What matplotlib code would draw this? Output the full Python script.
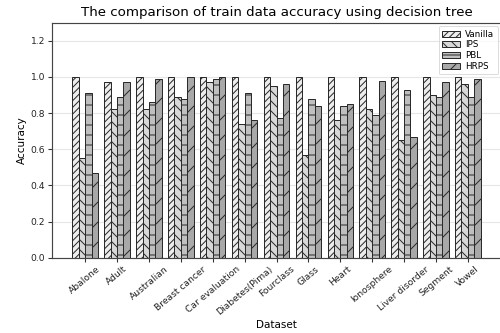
import matplotlib
matplotlib.use("Agg")
import matplotlib.pyplot as plt
import numpy as np

datasets = ["Abalone", "Adult", "Australian", "Breast cancer", "Car evaluation",
            "Diabetes(Pima)", "Fourclass", "Glass", "Heart", "Ionosphere",
            "Liver disorder", "Segment", "Vowel"]
vanilla = [1.0, 0.97, 1.0, 1.0, 1.0, 1.0, 1.0, 1.0, 1.0, 1.0, 1.0, 1.0, 1.0]
ips = [0.55, 0.82, 0.82, 0.89, 0.97, 0.74, 0.95, 0.57, 0.76, 0.82, 0.65, 0.90, 0.96]
pbl = [0.91, 0.89, 0.86, 0.88, 0.99, 0.91, 0.77, 0.88, 0.84, 0.79, 0.93, 0.89, 0.89]
hrps = [0.47, 0.97, 0.99, 1.0, 1.0, 0.76, 0.96, 0.84, 0.85, 0.98, 0.67, 0.97, 0.99]

series = [
    ("Vanilla", vanilla, "#ededed", "///"),
    ("IPS", ips, "#d8d8d8", "\\\\"),
    ("PBL", pbl, "#bfbfbf", "-"),
    ("HRPS", hrps, "#a8a8a8", "/"),
]

# rendered at a low dpi so the hatch spacing matches the reference
DPI = 60
plt.rcParams["hatch.linewidth"] = 1.2
plt.rcParams["hatch.color"] = "#2a2a2a"

fig = plt.figure(figsize=(500 / DPI, 333 / DPI), dpi=DPI)
ax = fig.add_axes([0.104, 0.226, 0.898, 0.706])

x = np.arange(len(datasets))
width = 0.2
for i, (name, vals, color, hatch) in enumerate(series):
    ax.bar(x + (i - 1.5) * width, vals, width, label=name, color=color,
           edgecolor="#2a2a2a", linewidth=1.2, hatch=hatch)

ax.set_ylim(0, 1.3)
ax.set_yticks([0.0, 0.2, 0.4, 0.6, 0.8, 1.0, 1.2])
ax.set_xticks(x)
ax.set_xticklabels(datasets, rotation=40, fontsize=11)
ax.tick_params(axis="y", labelsize=11)
ax.tick_params(length=4.5, width=1.3, pad=3.5, colors="#333333", labelcolor="#222222")
ax.yaxis.grid(True, color="#e6e6e6", linewidth=1.3)
ax.set_axisbelow(True)
for s in ax.spines.values():
    s.set_color("#444444")
    s.set_linewidth(1.4)

ax.set_title("The comparison of train data accuracy using decision tree", fontsize=16, pad=8)
ax.set_xlabel("Dataset", fontsize=12.5, labelpad=4)
ax.set_ylabel("Accuracy", fontsize=12.5, labelpad=5)
ax.legend(loc="upper right", fontsize=10.5, handlelength=2.0, labelspacing=0.2,
          borderaxespad=0.4, borderpad=0.4, handletextpad=0.6)

fig.savefig("out.png", dpi=DPI)
